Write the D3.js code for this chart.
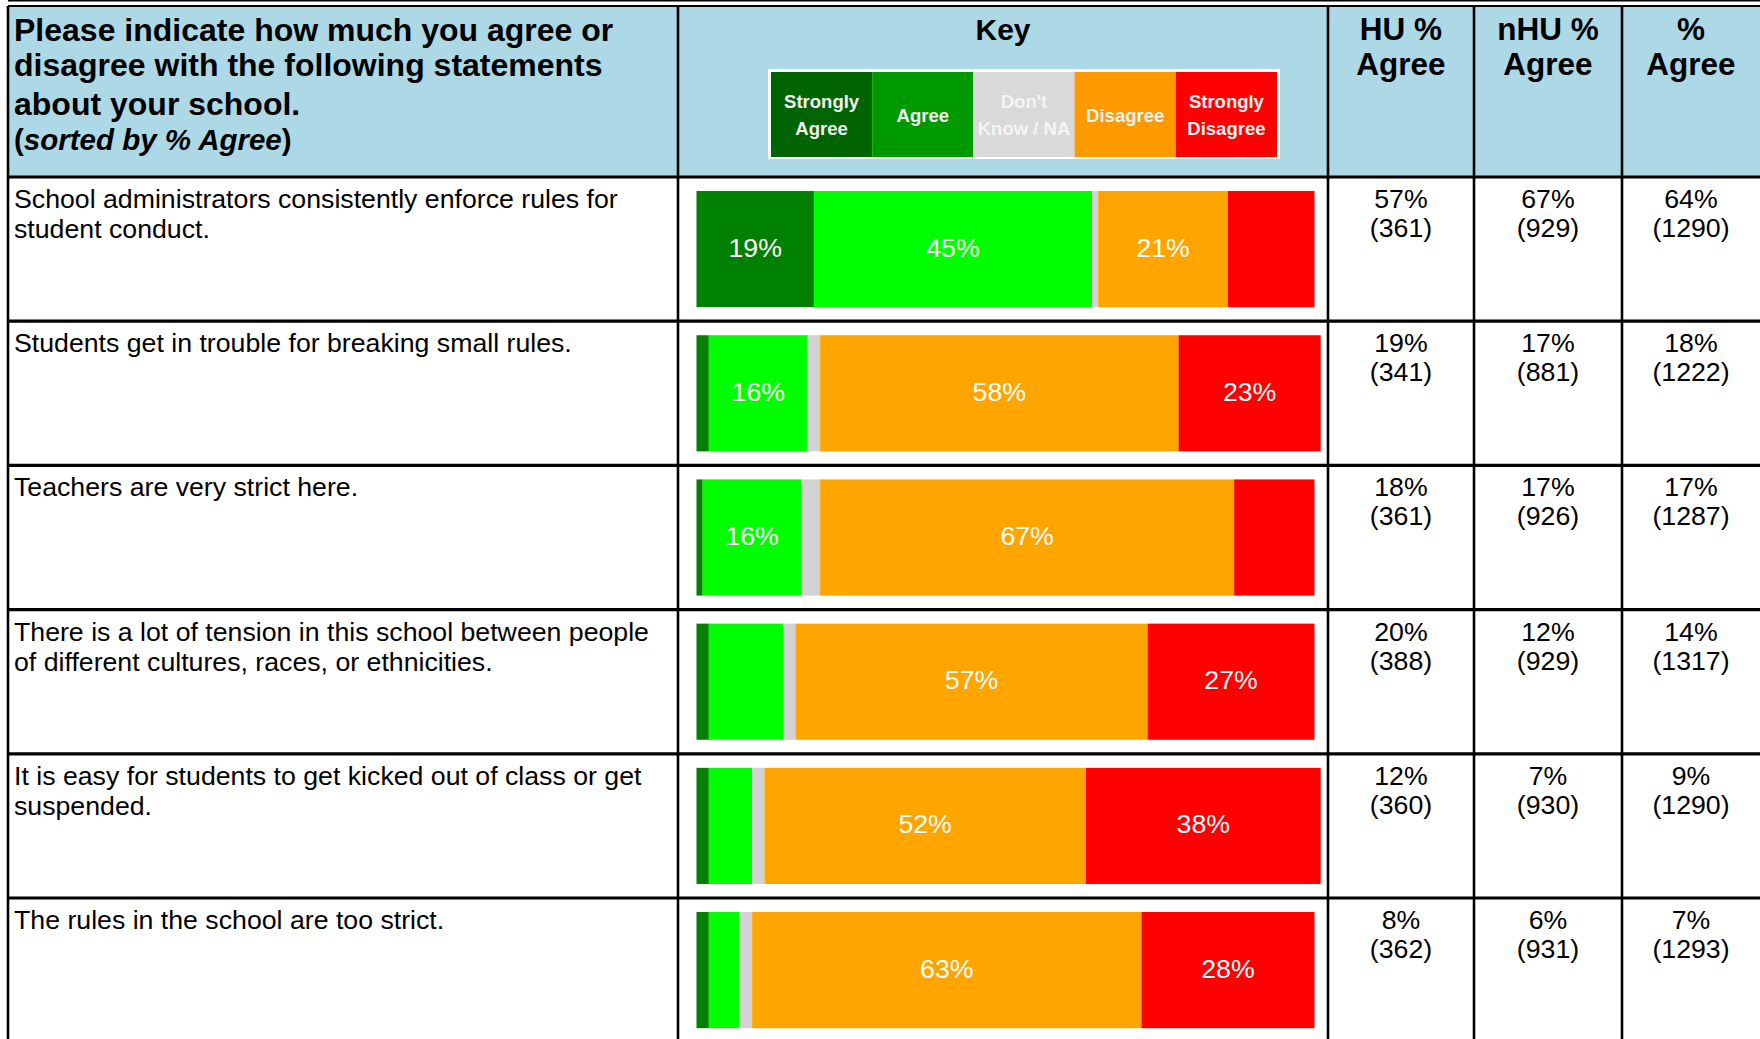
<!DOCTYPE html>
<html>
<head>
<meta charset="utf-8">
<script src="https://cdn.jsdelivr.net/npm/d3@7/dist/d3.min.js"></script>
<style>
  html, body { margin: 0; padding: 0; background: #fff; }
  svg { display: block; }
  text { font-family: "Liberation Sans", Arial, sans-serif; }
</style>
</head>
<body>
<svg id="chart" width="1760" height="1039"></svg>
<script>
// ---------------- DATA ----------------
const statementLines = [
  ["School administrators consistently enforce rules for", "student conduct."],
  ["Students get in trouble for breaking small rules."],
  ["Teachers are very strict here."],
  ["There is a lot of tension in this school between people", "of different cultures, races, or ethnicities."],
  ["It is easy for students to get kicked out of class or get", "suspended."],
  ["The rules in the school are too strict."]
];
const categories = ["Strongly Agree", "Agree", "Don't Know / NA", "Disagree", "Strongly Disagree"];
const stronglyAgree    = [19, 2, 1, 2, 2, 2];
const agree            = [45, 16, 16, 12, 7, 5];
const dontKnow         = [1, 2, 3, 2, 2, 2];
const disagree         = [21, 58, 67, 57, 52, 63];
const stronglyDisagree = [14, 23, 13, 27, 38, 28];

const huAgree  = [57, 19, 18, 20, 12, 8];
const huN      = [361, 341, 361, 388, 360, 362];
const nhuAgree = [67, 17, 17, 12, 7, 6];
const nhuN     = [929, 881, 926, 929, 930, 931];
const allAgree = [64, 18, 17, 14, 9, 7];
const allN     = [1290, 1222, 1287, 1317, 1290, 1293];

const titleLines = ["Please indicate how much you agree or", "disagree with the following statements", "about your school."];
const columnHeaders = [["HU %", "Agree"], ["nHU %", "Agree"], ["%", "Agree"]];
const legendLabels = [["Strongly", "Agree"], ["Agree"], ["Don't", "Know / NA"], ["Disagree"], ["Strongly", "Disagree"]];

// ---------------- STYLE ----------------
const barColors    = ["#008000", "#00ff00", "#d3d3d3", "#ffa500", "#ff0000"];
const legendColors = ["#006400", "#009900", "#d9d9d9", "#ff9900", "#ff0000"];
const headerBg = "#add8e6";

const svg = d3.select("#chart");
const W = 1760, H = 1039;
const colX = [8, 678, 1328, 1474, 1622, 1760];
const tableTop = 6, headerBottom = 177, rowStep = 144.2;

const keys = categories;
const rows = statementLines.map((l, i) => ({
  idx: i,
  "Strongly Agree": stronglyAgree[i],
  "Agree": agree[i],
  "Don't Know / NA": dontKnow[i],
  "Disagree": disagree[i],
  "Strongly Disagree": stronglyDisagree[i]
}));

const y = d3.scaleBand()
  .domain(d3.range(rows.length))
  .range([headerBottom, headerBottom + rowStep * rows.length])
  .paddingInner(28 / 144)
  .paddingOuter(14 / 144);
const x = d3.scaleLinear().domain([0, 100]).range([696.5, 1314.5]);
const color = d3.scaleOrdinal().domain(keys).range(barColors);

// header background
svg.append("rect").attr("x", colX[0]).attr("y", tableTop)
  .attr("width", W - colX[0]).attr("height", headerBottom - tableTop)
  .attr("fill", headerBg);

// title
const title = svg.append("g");
const titleBaselines = [41, 76, 115];
titleLines.forEach((t, i) => {
  title.append("text").attr("x", 14).attr("y", titleBaselines[i])
    .attr("font-size", 32).attr("font-weight", "bold").attr("fill", "#000").text(t);
});
const t4 = title.append("text").attr("x", 14).attr("y", 150)
  .attr("font-size", 29.5).attr("font-weight", "bold").attr("fill", "#000");
t4.append("tspan").text("(");
t4.append("tspan").attr("font-style", "italic").text("sorted by % Agree");
t4.append("tspan").text(")");

// Key
const keyCx = (colX[1] + colX[2]) / 2;
svg.append("text").attr("x", keyCx).attr("y", 40).attr("text-anchor", "middle")
  .attr("font-size", 30).attr("font-weight", "bold").text("Key");

const legX = d3.scaleBand().domain(keys).range([771, 1277]);
svg.append("rect").attr("x", 768).attr("y", 69).attr("width", 512).attr("height", 90).attr("fill", "#fff");
const leg = svg.append("g").selectAll("g").data(keys).join("g");
leg.append("rect")
  .attr("x", d => legX(d)).attr("y", 72)
  .attr("width", legX.bandwidth()).attr("height", 85)
  .attr("fill", (d, i) => legendColors[i]);
leg.each(function(d, i) {
  const lines = legendLabels[i];
  const g = d3.select(this);
  const cx = legX(d) + legX.bandwidth() / 2;
  const bases = lines.length === 2 ? [108, 135] : [122];
  lines.forEach((ln, j) => {
    g.append("text").attr("x", cx).attr("y", bases[j]).attr("text-anchor", "middle")
      .attr("font-family", "Lato, 'Open Sans', sans-serif").attr("font-weight", "bold")
      .attr("font-size", 18.5).attr("fill", "#f4f4f4").text(ln);
  });
});

// column headers
columnHeaders.forEach((lines, c) => {
  const cx = (colX[c + 2] + colX[c + 3]) / 2;
  lines.forEach((ln, j) => {
    svg.append("text").attr("x", cx).attr("y", [40, 75][j]).attr("text-anchor", "middle")
      .attr("font-size", 31.5).attr("font-weight", "bold").text(ln);
  });
});

// bars
const stack = d3.stack().keys(keys);
const series = stack(rows);
const barG = svg.append("g");
series.forEach(s => {
  barG.append("g").attr("fill", color(s.key))
    .selectAll("rect").data(s).join("rect")
    .attr("x", d => x(d[0]))
    .attr("y", (d, i) => y(i))
    .attr("width", d => x(d[1]) - x(d[0]))
    .attr("height", y.bandwidth());
});
series.forEach(s => {
  barG.append("g").selectAll("text").data(s.filter(d => d[1] - d[0] >= 15)).join("text")
    .attr("x", d => (x(d[0]) + x(d[1])) / 2)
    .attr("y", d => y(d.data.idx) + y.bandwidth() / 2 + 7.5)
    .attr("text-anchor", "middle").attr("fill", "#fff").attr("font-size", 26.7)
    .text(d => (d[1] - d[0]) + "%");
});

// row texts
const rowTop = i => y(i) - y.step() * y.paddingInner() / 2;
const numCols = [[huAgree, huN], [nhuAgree, nhuN], [allAgree, allN]];
rows.forEach((r, i) => {
  const top = rowTop(i);
  statementLines[i].forEach((ln, j) => {
    svg.append("text").attr("x", 14).attr("y", top + 31 + j * 30)
      .attr("font-size", 26.7).attr("fill", "#000").text(ln);
  });
  numCols.forEach((pair, c) => {
    const cx = (colX[c + 2] + colX[c + 3]) / 2;
    svg.append("text").attr("x", cx).attr("y", top + 31).attr("text-anchor", "middle")
      .attr("font-size", 26.7).text(pair[0][i] + "%");
    svg.append("text").attr("x", cx).attr("y", top + 60).attr("text-anchor", "middle")
      .attr("font-size", 26.7).text("(" + pair[1][i] + ")");
  });
});

// grid lines
const grid = svg.append("g").attr("stroke", "#000");
grid.append("line").attr("x1", colX[0]).attr("x2", W).attr("y1", tableTop).attr("y2", tableTop).attr("stroke-width", 2);
d3.range(rows.length + 1).forEach(i => {
  const yy = i === 0 ? headerBottom : rowTop(i);
  grid.append("line").attr("x1", colX[0]).attr("x2", W).attr("y1", yy).attr("y2", yy).attr("stroke-width", 3.2);
});
colX.slice(0, 5).forEach(cx => {
  grid.append("line").attr("x1", cx).attr("x2", cx).attr("y1", tableTop).attr("y2", H + 10).attr("stroke-width", 2.6);
});
</script>
</body>
</html>
